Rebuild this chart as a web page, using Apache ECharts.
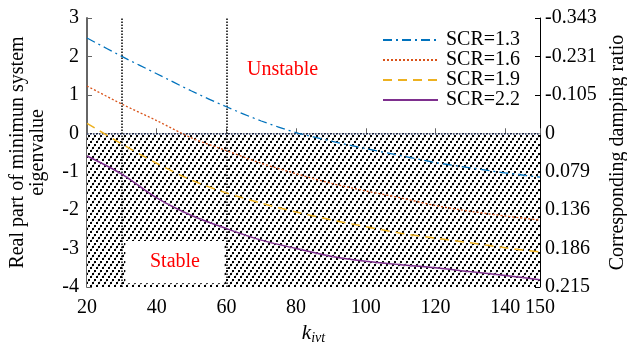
<!DOCTYPE html>
<html>
<head>
<meta charset="utf-8">
<script src="https://cdn.jsdelivr.net/npm/echarts@6/dist/echarts.min.js"></script>
<style>
  html, body { margin: 0; padding: 0; background: #fff; }
  #chart { width: 627px; height: 346px; }
</style>
</head>
<body>
<div id="chart"></div>
<script>
// k_ivt samples
var kivt = [20, 30, 40, 50, 60, 70, 80, 90, 100, 110, 120, 130, 140, 150];
// real part of minimum eigenvalue for each SCR
var scr13 = [2.48, 2.0, 1.55, 1.1, 0.69, 0.32, 0.02, -0.2, -0.4, -0.58, -0.76, -0.9, -1.03, -1.14];
var scr16 = [1.23, 0.76, 0.33, -0.12, -0.45, -0.78, -1.05, -1.3, -1.5, -1.68, -1.88, -2.03, -2.15, -2.26];
var scr19 = [0.26, -0.28, -0.78, -1.22, -1.55, -1.82, -2.05, -2.25, -2.43, -2.6, -2.73, -2.85, -2.98, -3.09];
var scr22 = [-0.59, -1.06, -1.68, -2.14, -2.48, -2.78, -3.0, -3.2, -3.33, -3.42, -3.5, -3.6, -3.7, -3.81];
// right axis: tick value -> damping ratio label
var leftTicks = [-4, -3, -2, -1, 0, 1, 2, 3];
var dampLabels = ['0.215', '0.186', '0.136', '0.079', '0', '-0.105', '-0.231', '-0.343'];
// dotted guide lines
var guideX = [30, 60];

var font = 'Liberation Serif';

function pairs(ys) {
  return kivt.map(function (x, i) { return [x, ys[i]]; });
}

// hatch pattern for the stable region: steep dotted "/" stripes
function makeHatch() {
  var c = document.createElement('canvas');
  c.width = 6;
  c.height = 9;
  var ctx = c.getContext('2d');
  ctx.fillStyle = '#fff';
  ctx.fillRect(0, 0, 6, 9);
  ctx.fillStyle = 'rgba(0,0,0,0.2)';
  ctx.fillRect(1, 5, 2, 1);
  ctx.fillRect(3, 2, 2, 1);
  ctx.fillStyle = '#000';
  ctx.fillRect(0, 6, 2, 2);
  ctx.fillRect(2, 3, 2, 2);
  ctx.fillRect(4, 0, 2, 2);
  return c;
}

var chart = echarts.init(document.getElementById('chart'));

var lineBase = { type: 'line', symbol: 'none', showSymbol: false, z: 5, smooth: 0.3 };

var option = {
  animation: false,
  backgroundColor: '#fff',
  textStyle: { fontFamily: font },
  grid: { left: 87, right: 87, top: 18, bottom: 59, outerBoundsMode: 'none', containLabel: false },
  legend: {
    orient: 'vertical',
    left: 377,
    top: 25,
    itemWidth: 55,
    itemHeight: 10,
    itemGap: 0,
    itemStyle: { opacity: 0 },
    textStyle: { fontFamily: font, fontSize: 20, lineHeight: 18, color: '#000', padding: [0, 0, 0, 3] },
    data: ['SCR=1.3', 'SCR=1.6', 'SCR=1.9', 'SCR=2.2']
  },
  graphic: [{
    type: 'text',
    left: 247,
    top: 60,
    z: 10,
    style: { text: 'Unstable', fill: '#f00', font: '20px "Liberation Serif"' }
  }],
  xAxis: {
    type: 'value',
    min: 20,
    max: 150,
    interval: 20,
    name: '{k|k}{s|ivt}',
    nameLocation: 'middle',
    nameGap: 31,
    nameTextStyle: {
      rich: {
        k: { fontFamily: font, fontStyle: 'italic', fontSize: 21, color: '#000' },
        s: { fontFamily: font, fontStyle: 'italic', fontSize: 14, color: '#000', padding: [9, 0, 0, 0] }
      }
    },
    axisLine: { lineStyle: { color: '#666', width: 2 } },
    axisTick: { inside: true, length: 5, lineStyle: { color: '#666' } },
    axisLabel: { fontFamily: font, fontSize: 20, color: '#000', margin: 11 },
    splitLine: { show: false }
  },
  yAxis: [{
    type: 'value',
    min: -4,
    max: 3,
    interval: 1,
    name: 'Real part of minimun system\neigenvalue',
    nameLocation: 'middle',
    nameGap: 39,
    nameRotate: 90,
    nameTextStyle: { fontFamily: font, fontSize: 20, color: '#000', lineHeight: 20 },
    axisLine: { show: true, lineStyle: { color: '#666', width: 2 } },
    axisTick: { show: true, inside: true, length: 5, lineStyle: { color: '#666' } },
    axisLabel: { fontFamily: font, fontSize: 20, color: '#000', margin: 8 },
    splitLine: { show: false }
  }, {
    type: 'value',
    position: 'right',
    min: -4,
    max: 3,
    interval: 1,
    name: 'Corresponding damping ratio',
    nameLocation: 'middle',
    nameGap: 57,
    nameRotate: 90,
    nameTextStyle: { fontFamily: font, fontSize: 20, color: '#000' },
    axisLine: { show: true, lineStyle: { color: '#000', width: 1 } },
    axisTick: { show: true, inside: true, length: 5, lineStyle: { color: '#000' } },
    axisLabel: {
      fontFamily: font, fontSize: 20, color: '#000', margin: 5,
      formatter: function (v) { return dampLabels[leftTicks.indexOf(Math.round(v))]; }
    },
    splitLine: { show: false }
  }],
  series: [
    Object.assign({}, lineBase, {
      name: 'SCR=1.3',
      data: pairs(scr13),
      color: '#0072BD',
      lineStyle: { color: '#0072BD', width: 1.3, type: [9, 4, 2, 4] },
      markArea: {
        silent: true,
        z: 1,
        itemStyle: { color: { image: makeHatch(), repeat: 'repeat' } },
        data: [[{ xAxis: 20, yAxis: -4 }, { xAxis: 150, yAxis: 0 }]]
      }
    }),
    Object.assign({}, lineBase, {
      name: 'SCR=1.6',
      data: pairs(scr16),
      color: '#D95319',
      lineStyle: { color: '#D95319', width: 1.3, type: [2, 2] },
      markArea: {
        silent: true,
        z: 2,
        itemStyle: { color: '#fff' },
        label: {
          show: true,
          position: 'inside',
          color: '#f00',
          fontFamily: font,
          fontSize: 20
        },
        data: [[{ xAxis: 31, yAxis: -2.8, name: 'Stable' }, { xAxis: 59.5, yAxis: -3.9 }]]
      }
    }),
    Object.assign({}, lineBase, {
      name: 'SCR=1.9',
      data: pairs(scr19),
      color: '#EDB120',
      lineStyle: { color: '#EDB120', width: 1.5, type: [9, 6] },
      markLine: {
        silent: true,
        symbol: 'none',
        z: 3,
        label: { show: false },
        lineStyle: { color: '#000', width: 1.5, type: [1.5, 1.5] },
        data: guideX.map(function (x) { return { xAxis: x }; })
      }
    }),
    Object.assign({}, lineBase, {
      name: 'SCR=2.2',
      data: pairs(scr22),
      color: '#7E2F8E',
      lineStyle: { color: '#7E2F8E', width: 1.5, type: 'solid' },
      markLine: {
        silent: true,
        symbol: 'none',
        z: 3,
        label: { show: false },
        lineStyle: { color: '#1f2d5a', width: 1.5, type: [1.5, 1.5] },
        data: [{ yAxis: 0 }]
      }
    })
  ]
};

chart.setOption(option);
</script>
</body>
</html>
